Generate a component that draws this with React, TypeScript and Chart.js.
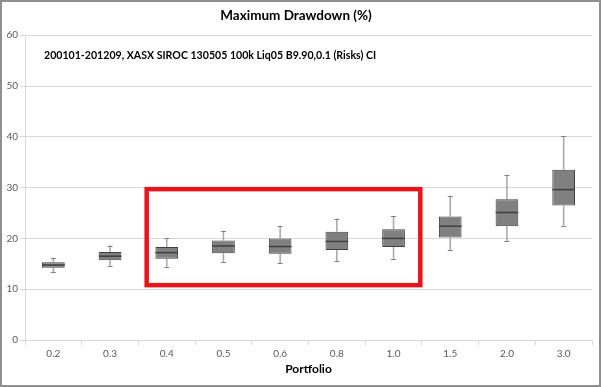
import React, { useEffect, useRef } from "react";
import { Chart, registerables } from "chart.js";

Chart.register(...registerables);

const categories = ["0.2", "0.3", "0.4", "0.5", "0.6", "0.8", "1.0", "1.5", "2.0", "3.0"];
const whiskerMin = [13.4, 14.6, 14.4, 15.4, 15.1, 15.5, 16.0, 17.7, 19.4, 22.5];
const quartile1 = [14.2, 15.7, 16.0, 17.1, 17.0, 17.7, 18.3, 20.2, 22.4, 26.5];
const medians = [14.75, 16.5, 17.2, 18.5, 18.4, 19.4, 20.0, 22.4, 25.1, 29.6];
const quartile3 = [15.3, 17.3, 18.3, 19.6, 20.0, 21.3, 21.8, 24.3, 27.7, 33.5];
const whiskerMax = [16.1, 18.6, 20.0, 21.5, 22.5, 23.9, 24.4, 28.4, 32.5, 40.1];

const chartTitle = "Maximum Drawdown (%)";
const subtitleText = "200101-201209, XASX SIROC 130505 100k Liq05 B9.90,0.1 (Risks) CI";
const xAxisTitle = "Portfolio";

// highlight rectangle in data units (category index, y value)
const highlightX = [1.646, 6.472];
const highlightY = [29.7, 10.8];

const FONT = "Lato, 'Open Sans', sans-serif";

const boxPlugin = {
  id: "boxExtras",
  beforeDraw(chart: any) {
    const ctx = chart.ctx;
    ctx.save();
    ctx.fillStyle = "#ffffff";
    ctx.fillRect(0, 0, chart.width, chart.height);
    ctx.restore();
  },
  beforeDatasetsDraw(chart: any) {
    const ctx = chart.ctx;
    const x = chart.scales.x;
    const y = chart.scales.y;
    const meta = chart.getDatasetMeta(0);
    ctx.save();
    ctx.strokeStyle = "#a6a6a6";
    ctx.lineWidth = 1.5;
    meta.data.forEach((bar: any, i: number) => {
      const cx = x.getPixelForValue(i);
      ctx.beginPath();
      ctx.moveTo(cx, y.getPixelForValue(quartile3[i]));
      ctx.lineTo(cx, y.getPixelForValue(whiskerMax[i]));
      ctx.moveTo(cx, y.getPixelForValue(quartile1[i]));
      ctx.lineTo(cx, y.getPixelForValue(whiskerMin[i]));
      ctx.stroke();
    });
    ctx.strokeStyle = "#808080";
    ctx.lineWidth = 1;
    meta.data.forEach((bar: any, i: number) => {
      const cx = x.getPixelForValue(i);
      [whiskerMax[i], whiskerMin[i]].forEach((v) => {
        const py = Math.round(y.getPixelForValue(v)) + 0.5;
        ctx.beginPath();
        ctx.moveTo(cx - 2.5, py);
        ctx.lineTo(cx + 2.5, py);
        ctx.stroke();
      });
    });
    ctx.restore();
  },
  afterDatasetsDraw(chart: any) {
    const ctx = chart.ctx;
    const x = chart.scales.x;
    const y = chart.scales.y;
    const meta = chart.getDatasetMeta(0);
    ctx.save();
    ctx.strokeStyle = "#3f3f3f";
    ctx.lineWidth = 1.5;
    meta.data.forEach((bar: any, i: number) => {
      const half = bar.width / 2;
      const py = y.getPixelForValue(medians[i]);
      ctx.beginPath();
      ctx.moveTo(bar.x - half, py);
      ctx.lineTo(bar.x + half, py);
      ctx.stroke();
    });
    ctx.fillStyle = "#000000";
    ctx.font = `bold 10.6px ${FONT}`;
    ctx.textBaseline = "middle";
    ctx.textAlign = "left";
    ctx.fillText(subtitleText, chart.chartArea.left + 19, chart.chartArea.top + 20);
    const x0 = x.getPixelForValue(highlightX[0]);
    const x1 = x.getPixelForValue(highlightX[1]);
    const y0 = y.getPixelForValue(highlightY[0]);
    const y1 = y.getPixelForValue(highlightY[1]);
    ctx.strokeStyle = "#e8141c";
    ctx.lineWidth = 4.5;
    ctx.strokeRect(x0, y0, x1 - x0, y1 - y0);
    ctx.restore();
  },
  afterDraw(chart: any) {
    const ctx = chart.ctx;
    ctx.save();
    ctx.strokeStyle = "#8f8f8f";
    ctx.lineWidth = 2;
    ctx.strokeRect(1, 1, chart.width - 2, chart.height - 2);
    ctx.restore();
  },
};

export default function App() {
  const ref = useRef<HTMLCanvasElement>(null);
  useEffect(() => {
    document.body.style.margin = "0";
    const boxData = quartile1.map((q, i) => [q, quartile3[i]]);
    const chart = new Chart(ref.current!, {
      type: "bar",
      data: {
        labels: categories,
        datasets: [
          {
            data: boxData as any,
            backgroundColor: "#808080",
            borderColor: "#404040",
            borderWidth: 1,
            borderSkipped: false,
            categoryPercentage: 1,
            barPercentage: 0.4,
          },
        ],
      },
      options: {
        animation: false,
        responsive: false,
        layout: { padding: { left: 0, right: 9, top: 0, bottom: 0 } },
        plugins: {
          legend: { display: false },
          tooltip: { enabled: false },
          title: {
            display: true,
            text: chartTitle,
            color: "#000000",
            font: { family: FONT, size: 13.5, weight: "bold" },
            padding: { top: 8, bottom: 11 },
          },
        },
        scales: {
          x: {
            grid: {
              drawOnChartArea: false,
              drawTicks: true,
              tickLength: 5,
              color: "#d9d9d9",
              offset: true,
            },
            border: { color: "#d9d9d9", width: 1 },
            ticks: { color: "#595959", font: { family: FONT, size: 10 }, padding: 3 },
            title: {
              display: true,
              text: xAxisTitle,
              color: "#000000",
              font: { family: FONT, size: 12, weight: "bold" },
              padding: { top: 0, bottom: 11 },
            },
            afterFit: (s: any) => {
              s.height = 47;
            },
          },
          y: {
            min: 0,
            max: 60,
            ticks: { stepSize: 10, color: "#595959", font: { family: FONT, size: 10 }, padding: 2 },
            grid: { color: "#d9d9d9", lineWidth: 1, tickLength: 5 },
            border: { color: "#d9d9d9", width: 1 },
            afterFit: (s: any) => {
              s.width = 25;
            },
          },
        },
      },
      plugins: [boxPlugin],
    });
    return () => chart.destroy();
  }, []);
  return (
    <div style={{ width: 601, height: 387 }}>
      <canvas ref={ref} width={601} height={387} style={{ display: "block" }} />
    </div>
  );
}
